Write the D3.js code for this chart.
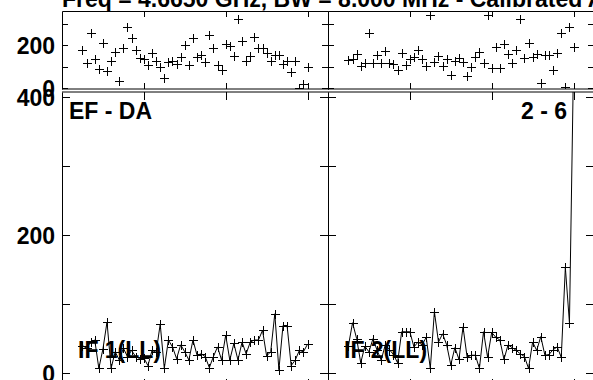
<!DOCTYPE html>
<html>
<head>
<meta charset="utf-8">
<script src="https://cdn.jsdelivr.net/npm/d3@7/dist/d3.min.js"></script>
<style>
  html, body { margin: 0; padding: 0; background: #fff; }
  svg { display: block; }
  text { font-family: "Liberation Sans", Arial, sans-serif; font-weight: bold; fill: #000; }
</style>
</head>
<body>
<div id="chart"></div>
<script>
// Channels plotted in every panel
const channels = [5, 6, 7, 8, 9, 10, 11, 12, 13, 14, 15, 16, 17, 18, 19, 20, 21, 22, 23, 24,
  25, 26, 27, 28, 29, 30, 31, 32, 33, 34, 35, 36, 37, 38, 39, 40, 41, 42, 43, 44,
  45, 46, 47, 48, 49, 50, 51, 52, 53, 54, 55, 56, 57, 58, 59, 60];

// Upper strip (points only), IF1 and IF2
const topIF1 = [178, 119, 256, 134, 88, 209, 80, 127, 170, 33, 186, 287, 233, 178, 142, 134, 106, 162, 128, 100,
  45, 120, 128, 111, 147, 202, 106, 233, 144, 155, 122, 250, 186, 106, 84, 206, 197, 150, 322, 219,
  128, 150, 241, 188, 188, 162, 128, 156, 156, 112, 127, 74, 127, 2, 19, 100];
const topIF2 = [131, 136, 158, 105, 116, 256, 116, 155, 116, 175, 116, 111, 84, 162, 109, 134, 147, 178, 134, 103,
  342, 123, 150, 103, 134, 61, 128, 139, 123, 56, 100, 144, 167, 119, 342, 95, 194, 95, 206, 159,
  116, 178, 322, 139, 209, 144, 158, 25, 155, 155, 84, 166, 256, 6, 288, 194];

// Lower panels (line + points), IF1 and IF2
const ampIF1 = [40, 36, 45, 48, 7, 35, 74, 7, 31, 19, 36, 24, 33, 24, 21, 22, 11, 33, 30, 71,
  7, 48, 38, 21, 41, 31, 19, 48, 26, 28, 24, 8, 24, 38, 19, 55, 19, 43, 19, 45,
  28, 45, 48, 48, 62, 25, 31, 86, 5, 69, 69, 11, 19, 33, 31, 42];
const ampIF2 = [40, 73, 50, 15, 39, 31, 50, 33, 19, 41, 34, 27, 15, 60, 60, 60, 38, 45, 41, 52,
  7, 89, 45, 57, 41, 12, 37, 20, 67, 23, 26, 26, 7, 60, 23, 59, 52, 48, 20, 41,
  37, 33, 28, 24, 7, 45, 33, 53, 26, 27, 34, 38, 23, 153, 73, 450];

const title = 'Freq = 4.6650 GHz, BW = 8.000 MHz - Calibrated Amplitude';
const xTicks = [20, 40, 60];
const topYTicks = [0, 100, 200, 300];
const topYLabels = [0, 200];
const lowYTicks = [0, 100, 200, 300, 400];
const lowYLabels = [0, 200, 400];
const panelLabels = ['EF - DA', '2 - 6'];
const ifLabels = ['IF 1(LL)', 'IF 2(LL)'];

const W = 593, H = 380;
const cols = [{ x0: 62, x1: 328 }, { x0: 328, x1: 594 }];
const topBox = { y0: 11, y1: 89 };
const lowBox = { y0: 92, y1: 387 };

const svg = d3.select('#chart').append('svg')
  .attr('width', W).attr('height', H)
  .attr('viewBox', `0 0 ${W} ${H}`);

const yTop = d3.scaleLinear().domain([-5, 361]).range([topBox.y1, topBox.y0]);
const yLow = d3.scaleLinear().domain([-20, 407]).range([lowBox.y1, lowBox.y0]);

const plus = 'M-4.5,0H4.5M0,-4.5V4.5';

// Title, mostly above the top edge
svg.append('text')
  .attr('x', 62).attr('y', 7)
  .attr('font-size', 23)
  .attr('xml:space', 'preserve')
  .text(title);

function frame(g, x0, x1, y0, y1, softTop, softBottom) {
  const edges = [
    { x1: x0, y1: y0, x2: x1, y2: y0, soft: softTop },
    { x1: x0, y1: y1, x2: x1, y2: y1, soft: softBottom },
    { x1: x0, y1: y0, x2: x0, y2: y1, soft: false },
    { x1: x1, y1: y0, x2: x1, y2: y1, soft: false },
  ];
  g.selectAll(null).data(edges).enter().append('line')
    .attr('x1', (d) => d.soft ? d.x1 : d.x1 + 0.5).attr('x2', (d) => d.soft ? d.x2 : d.x2 + 0.5)
    .attr('y1', (d) => d.soft ? d.y1 : d.y1 + 0.5).attr('y2', (d) => d.soft ? d.y2 : d.y2 + 0.5)
    .attr('stroke', '#000').attr('stroke-width', 1);
}

function ticks(g, x, y, yTickVals, len, x0, x1, y0, y1) {
  // x ticks on top and bottom edges
  xTicks.forEach((t) => {
    const px = Math.round(x(t)) + 0.5;
    g.append('line').attr('x1', px).attr('x2', px).attr('y1', y0).attr('y2', y0 + len).attr('stroke', '#000');
    g.append('line').attr('x1', px).attr('x2', px).attr('y1', y1).attr('y2', y1 - len).attr('stroke', '#000');
  });
  // y ticks on left and right edges
  yTickVals.forEach((t) => {
    const py = Math.round(y(t)) + 0.5;
    g.append('line').attr('x1', x0).attr('x2', x0 + len).attr('y1', py).attr('y2', py).attr('stroke', '#000');
    g.append('line').attr('x1', x1).attr('x2', x1 - len).attr('y1', py).attr('y2', py).attr('stroke', '#000');
  });
}

function markers(g, x, y, vals) {
  g.selectAll(null).data(vals).enter().append('path')
    .attr('d', plus)
    .attr('transform', (d, i) => `translate(${Math.round(x(channels[i])) + 0.5},${Math.round(y(d)) + 0.5})`)
    .attr('fill', 'none').attr('stroke', '#000').attr('stroke-width', 1);
}

const defs = svg.append('defs');

cols.forEach((c, k) => {
  const x = d3.scaleLinear().domain([0, 65]).range([c.x0, c.x1]);

  // --- upper strip ---
  defs.append('clipPath').attr('id', `clipTop${k}`).append('rect')
    .attr('x', c.x0).attr('y', topBox.y0).attr('width', c.x1 - c.x0).attr('height', topBox.y1 - topBox.y0);
  const gt = svg.append('g');
  frame(gt, c.x0, c.x1, topBox.y0, topBox.y1, false, true);
  ticks(gt, x, yTop, topYTicks, 6, c.x0, c.x1, topBox.y0, topBox.y1);
  markers(gt.append('g').attr('clip-path', `url(#clipTop${k})`), x, yTop, k === 0 ? topIF1 : topIF2);

  // --- lower panel ---
  defs.append('clipPath').attr('id', `clipLow${k}`).append('rect')
    .attr('x', c.x0).attr('y', lowBox.y0).attr('width', c.x1 - c.x0).attr('height', lowBox.y1 - lowBox.y0);
  const gl = svg.append('g');
  frame(gl, c.x0, c.x1, lowBox.y0, lowBox.y1, true, false);
  ticks(gl, x, yLow, lowYTicks, 8, c.x0, c.x1, lowBox.y0, lowBox.y1);

  // baseline / panel labels go under the data
  if (k === 0) {
    gl.append('text').attr('x', c.x0 + 7).attr('y', 119).attr('font-size', 23).text(panelLabels[0]);
  } else {
    gl.append('text').attr('x', 567).attr('y', 119).attr('font-size', 23)
      .attr('text-anchor', 'end').text(panelLabels[1]);
  }
  gl.append('text').attr('x', c.x0 + 16).attr('y', 358).attr('font-size', 23).text(ifLabels[k]);

  const vals = k === 0 ? ampIF1 : ampIF2;
  const line = d3.line().x((d, i) => x(channels[i])).y((d) => yLow(d));
  const gd = gl.append('g').attr('clip-path', `url(#clipLow${k})`);
  gd.append('path').datum(vals).attr('d', line)
    .attr('fill', 'none').attr('stroke', '#000').attr('stroke-width', 1);
  markers(gd, x, yLow, vals);
});

// y tick labels, left side only
svg.selectAll('.ylab-top').data(topYLabels).enter().append('text')
  .attr('x', 55).attr('y', (d) => yTop(d) + 9)
  .attr('text-anchor', 'end').attr('font-size', 23)
  .text((d) => d);
svg.selectAll('.ylab-low').data(lowYLabels).enter().append('text')
  .attr('x', 55).attr('y', (d) => yLow(d) + 9)
  .attr('text-anchor', 'end').attr('font-size', 23)
  .text((d) => d);
</script>
</body>
</html>
